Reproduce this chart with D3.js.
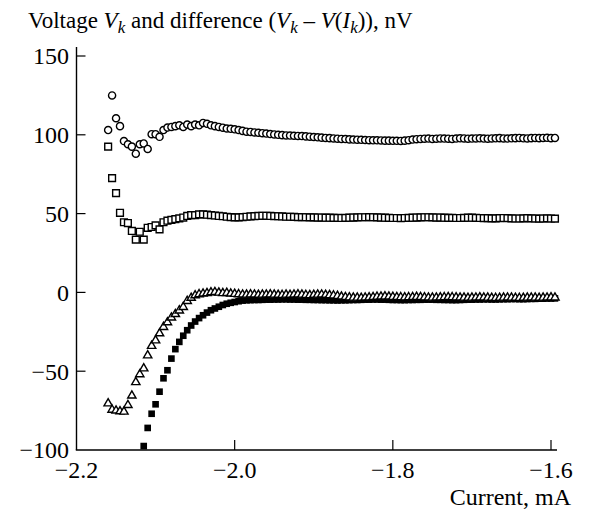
<!DOCTYPE html>
<html>
<head>
<meta charset="utf-8">
<script src="https://cdn.jsdelivr.net/npm/d3@7"></script>
<style>
  body { margin: 0; background: #fff; }
  svg { display: block; font-family: "Liberation Serif", "Times New Roman", serif; }
</style>
</head>
<body>
<svg id="chart" width="613" height="510"></svg>
<script>
// measurement currents I_k, mA (shared by all four series)
const currents = [
  -2.160, -2.155, -2.150, -2.145, -2.140, -2.135, -2.130, -2.125, -2.120, -2.115,
  -2.110, -2.105, -2.100, -2.095, -2.090, -2.085, -2.080, -2.075, -2.070, -2.065,
  -2.060, -2.055, -2.050, -2.045, -2.040, -2.035, -2.030, -2.025, -2.020, -2.015,
  -2.010, -2.005, -2.000, -1.995, -1.990, -1.985, -1.980, -1.975, -1.970, -1.965,
  -1.960, -1.955, -1.950, -1.945, -1.940, -1.935, -1.930, -1.925, -1.920, -1.915,
  -1.910, -1.905, -1.900, -1.895, -1.890, -1.885, -1.880, -1.875, -1.870, -1.865,
  -1.860, -1.855, -1.850, -1.845, -1.840, -1.835, -1.830, -1.825, -1.820, -1.815,
  -1.810, -1.805, -1.800, -1.795, -1.790, -1.785, -1.780, -1.775, -1.770, -1.765,
  -1.760, -1.755, -1.750, -1.745, -1.740, -1.735, -1.730, -1.725, -1.720, -1.715,
  -1.710, -1.705, -1.700, -1.695, -1.690, -1.685, -1.680, -1.675, -1.670, -1.665,
  -1.660, -1.655, -1.650, -1.645, -1.640, -1.635, -1.630, -1.625, -1.620, -1.615,
  -1.610, -1.605, -1.600, -1.595
];

// open circles, nV
const circleVals = [
  103, 125, 110.5, 105.5, 96, 94, 92.5, 88, 94, 94.5,
  91, 100.4, 100.4, 98.7, 103, 104.6, 105, 105.5, 106, 105,
  106.5, 105.5, 106.5, 106, 107.5, 107, 106, 105.5, 105, 104.5,
  104, 103.8, 103.5, 103, 102.5, 102, 101.8, 101.5, 101.3, 101,
  100.8, 100.5, 100.2, 100, 99.8, 99.6, 99.5, 99.4, 99.3, 99.2,
  99, 98.8, 98.6, 98.4, 98.2, 98, 97.9, 97.7, 97.5, 97.4,
  97.3, 97.1, 97, 96.9, 96.8, 96.7, 96.6, 96.5, 96.5, 96.4,
  96.3, 96.3, 96.2, 96.2, 96.1, 96.3, 96.6, 97, 97.2, 97.4,
  97.5, 97.6, 97.4, 97.5, 97.7, 97.6, 97.5, 97.4, 97.6, 97.8,
  97.7, 97.5, 97.6, 97.7, 97.8, 97.6, 97.5, 97.7, 97.8, 97.9,
  97.7, 97.6, 97.8, 97.9, 98, 97.8, 97.7, 97.9, 98, 97.9,
  98, 98.1, 97.9, 98
];

// open squares, nV
const openSquareVals = [
  92.5, 72.5, 63, 50.5, 44.5, 44, 39, 33.5, 38.5, 33.5,
  41, 41.5, 42.5, 40, 44.5, 45.5, 46, 46.5, 47, 47.5,
  48.5, 49, 49, 49.5, 49.5, 49.3, 49, 48.8, 48.5, 48.3,
  48, 47.8, 47.6, 47.6, 47.8, 48, 48.2, 48.4, 48.5, 48.6,
  48.6, 48.5, 48.4, 48.3, 48.2, 48, 48, 47.9, 47.8, 47.8,
  47.7, 47.6, 47.6, 47.5, 47.5, 47.4, 47.4, 47.3, 47.3, 47.2,
  47.3, 47.4, 47.5, 47.6, 47.7, 47.7, 47.8, 47.7, 47.6, 47.5,
  47.4, 47.3, 47.2, 47.2, 47.1, 47.2, 47.3, 47.4, 47.5, 47.6,
  47.7, 47.7, 47.6, 47.5, 47.5, 47.4, 47.3, 47.3, 47.2, 47.2,
  47.3, 47.4, 47.4, 47.3, 47.2, 47.1, 47.1, 47, 47, 47.1,
  47.2, 47.1, 47, 46.9, 46.9, 47, 47.1, 47, 46.9, 46.8,
  46.9, 47, 46.9, 46.8
];

// open triangles, nV
const triangleVals = [
  -70.5, -74.5, -75, -75.5, -75.7, -71.5, -65.5, -57, -52, -48.3,
  -40, -34, -30.5, -26, -22, -19, -16, -13.8, -11.5, -9.3,
  -5.5, -3.5, -1.9, -1.2, -0.8, -0.5, 0, 0.2, -0.2, -0.5,
  -0.4, -0.8, -1, -1.2, -1.4, -1.5, -1.3, -1.4, -1.6, -1.5,
  -1.4, -1.3, -1.5, -1.6, -1.7, -1.5, -1.6, -1.4, -1.3, -1.5,
  -1.7, -1.8, -1.6, -1.5, -1.4, -1.6, -1.8, -2, -2.3, -2.7,
  -3, -3.2, -3.4, -3.4, -3.5, -3.3, -3.2, -3.0, -2.8, -2.7,
  -2.6, -2.7, -2.9, -3.0, -3.1, -3.2, -3.1, -3.0, -2.9, -3.0,
  -3.2, -3.3, -3.4, -3.3, -3.2, -3.1, -3.0, -3.1, -3.2, -3.3,
  -3.4, -3.5, -3.4, -3.3, -3.2, -3.3, -3.4, -3.5, -3.6, -3.5,
  -3.4, -3.3, -3.4, -3.5, -3.6, -3.5, -3.4, -3.3, -3.4, -3.5,
  -3.4, -3.3, -3.2, -3.3
];

// filled squares, nV (null = below the bottom of the plot)
const filledSquareVals = [
  null, null, null, null, null, null, null, null, null, -97.5,
  -86, -77, -71, -63, -54.5, -49.4, -42, -36, -31.4, -27.5,
  -24, -21, -18.5, -16.3, -14.5, -12.8, -11.3, -10.2, -9.1, -8,
  -7.2, -6.6, -6.1, -5.6, -5.2, -5.0, -4.9, -4.8, -4.8, -4.7,
  -4.6, -4.6, -4.5, -4.5, -4.4, -4.4, -4.5, -4.5, -4.6, -4.6,
  -4.7, -4.7, -4.8, -4.8, -4.9, -4.9, -5.0, -5.0, -5.1, -5.0,
  -5.0, -4.9, -4.8, -4.8, -4.7, -4.6, -4.6, -4.5, -4.5, -4.6,
  -4.6, -4.7, -4.8, -4.8, -4.9, -4.9, -4.8, -4.8, -4.7, -4.7,
  -4.6, -4.6, -4.6, -4.7, -4.7, -4.8, -4.8, -4.9, -4.9, -4.8,
  -4.7, -4.6, -4.6, -4.5, -4.5, -4.4, -4.4, -4.5, -4.5, -4.4,
  -4.3, -4.3, -4.2, -4.2, -4.3, -4.3, -4.2, -4.1, -4.1, -4.0,
  -4.0, -3.9, -3.9, -3.8
];

const xTicks = [-2.2, -2.0, -1.8, -1.6];
const yTicks = [-100, -50, 0, 50, 100, 150];

// draw order: filled squares at the back, circles on top
const series = [
  {name: 'filledSquare', values: filledSquareVals, type: d3.symbolSquare, size: 44, fill: '#000', stroke: 'none'},
  {name: 'triangle', values: triangleVals, type: d3.symbolTriangle, size: 30, fill: '#fff', stroke: '#000'},
  {name: 'openSquare', values: openSquareVals, type: d3.symbolSquare, size: 46, fill: '#fff', stroke: '#000'},
  {name: 'circle', values: circleVals, type: d3.symbolCircle, size: 40, fill: '#fff', stroke: '#000'}
];

const svg = d3.select('#chart');

const x = d3.scaleLinear().domain([-2.2, -1.6]).range([76.5, 551]);
const y = d3.scaleLinear().domain([-100, 150]).range([450, 56]);

const fmtX = v => d3.format('.1f')(v).replace('-', '\u2212');
const fmtY = v => String(v).replace('-', '\u2212');

// axes
const axisG = svg.append('g').attr('class', 'axes');
axisG.append('line')
  .attr('x1', x(-2.2)).attr('x2', x(-2.2))
  .attr('y1', 47).attr('y2', y(-100))
  .attr('stroke', '#000').attr('stroke-width', 1.4);
axisG.append('line')
  .attr('x1', x(-2.2) - 0.7).attr('x2', 557)
  .attr('y1', y(-100)).attr('y2', y(-100))
  .attr('stroke', '#000').attr('stroke-width', 1.4);

axisG.selectAll('line.ytick')
  .data(yTicks.filter(v => v > -100))
  .join('line')
  .attr('class', 'ytick')
  .attr('x1', x(-2.2)).attr('x2', x(-2.2) + 9)
  .attr('y1', d => y(d)).attr('y2', d => y(d))
  .attr('stroke', '#000').attr('stroke-width', 1.2);

axisG.selectAll('line.xtick')
  .data(xTicks.slice(1))
  .join('line')
  .attr('class', 'xtick')
  .attr('x1', d => x(d)).attr('x2', d => x(d))
  .attr('y1', y(-100)).attr('y2', y(-100) - 10)
  .attr('stroke', '#000').attr('stroke-width', 1.2);

axisG.selectAll('text.ylab')
  .data(yTicks)
  .join('text')
  .attr('class', 'ylab')
  .attr('x', 69)
  .attr('y', d => y(d))
  .attr('dy', '0.35em')
  .attr('text-anchor', 'end')
  .attr('font-size', 24)
  .text(fmtY);

axisG.selectAll('text.xlab')
  .data(xTicks)
  .join('text')
  .attr('class', 'xlab')
  .attr('x', d => x(d))
  .attr('y', 478)
  .attr('text-anchor', 'middle')
  .attr('font-size', 24)
  .text(fmtX);

svg.append('text')
  .attr('x', 571).attr('y', 505)
  .attr('text-anchor', 'end')
  .attr('font-size', 24)
  .text('Current, mA');

// title with italic symbols and subscripts
const title = svg.append('text')
  .attr('x', 28).attr('y', 28)
  .attr('font-size', 23);
const parts = [
  ['Voltage ', 'n'], ['V', 'i'], ['k', 's'], [' and difference (', 'n'],
  ['V', 'i'], ['k', 's'], [' \u2013 ', 'n'], ['V', 'i'], ['(', 'n'],
  ['I', 'i'], ['k', 's'], [')), nV', 'n']
];
let prevSub = false;
parts.forEach(([t, kind]) => {
  const ts = title.append('tspan').text(t);
  if (kind !== 'n') ts.attr('font-style', 'italic');
  if (kind === 's') { ts.attr('dy', 5).attr('font-size', 17); prevSub = true; }
  else if (prevSub) { ts.attr('dy', -5); prevSub = false; }
});

// markers
const markG = svg.append('g').attr('class', 'marks');
series.forEach(s => {
  const pts = currents.map((c, i) => [c, s.values[i]]).filter(p => p[1] != null);
  markG.append('g')
    .attr('class', s.name)
    .selectAll('path')
    .data(pts)
    .join('path')
    .attr('transform', p => `translate(${x(p[0])},${y(p[1])})`)
    .attr('d', d3.symbol().type(s.type).size(s.size))
    .attr('fill', s.fill)
    .attr('stroke', s.stroke)
    .attr('stroke-width', 1.4);
});
</script>
</body>
</html>
